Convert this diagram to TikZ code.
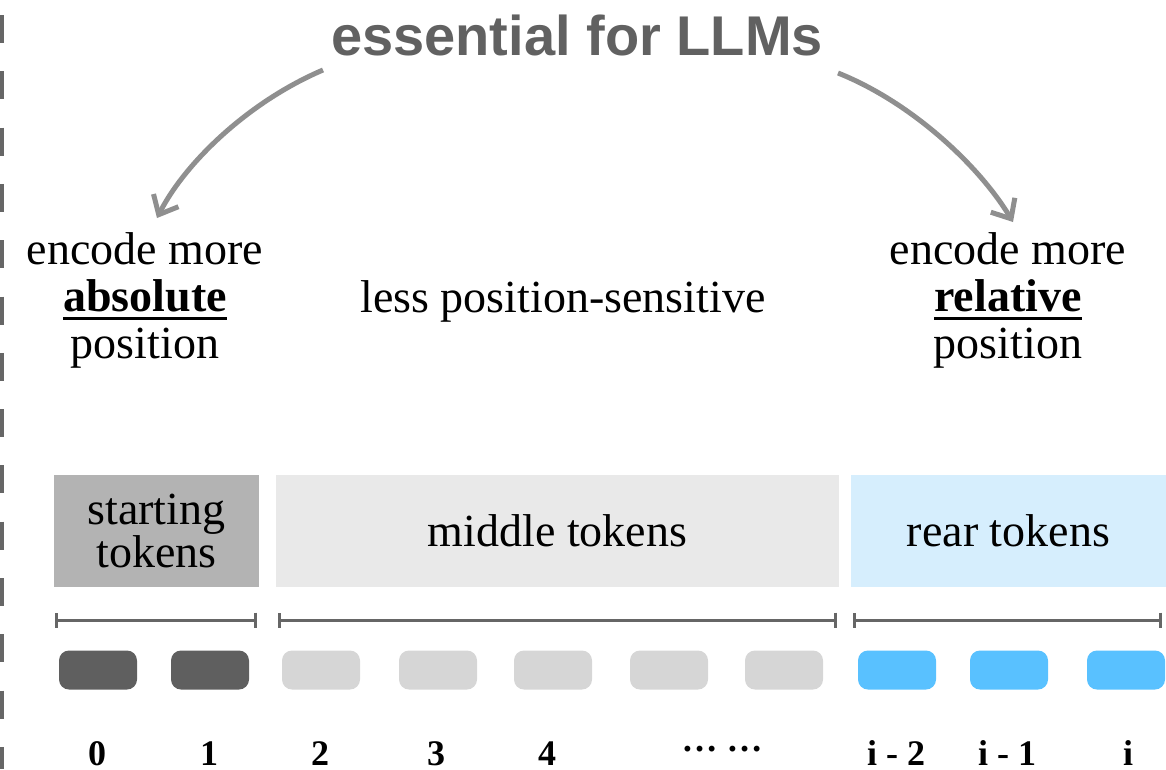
\documentclass[tikz,border=0pt]{standalone}
\usepackage{fontspec}
\setmainfont{Liberation Serif}
\newfontfamily\titlefont{Liberation Sans}
\usetikzlibrary{arrows.meta,calc}
\definecolor{titlegray}{HTML}{616161}
\definecolor{arrowgray}{HTML}{8F8F8F}
\definecolor{linegray}{HTML}{666666}
\definecolor{startfill}{HTML}{B3B3B3}
\definecolor{midfill}{HTML}{E9E9E9}
\definecolor{rearfill}{HTML}{D6EEFD}
\definecolor{tokdark}{HTML}{5F5F5F}
\definecolor{toklight}{HTML}{D6D6D6}
\definecolor{tokblue}{HTML}{59C1FF}
\newcommand\myul[1]{\leavevmode\setbox0\hbox{#1}\rlap{\rule[-8.5pt]{\wd0}{3pt}}\box0}
\begin{document}
\begin{tikzpicture}[x=1pt,y=-1pt,
  bigtxt/.style={font=\fontsize{46}{47}\selectfont, align=center, inner sep=0pt},
  region/.style={font=\fontsize{46}{40}\selectfont, align=center, inner sep=0pt, minimum height=112pt},
  tok/.style={rounded corners=10pt, minimum width=78pt, minimum height=39pt, inner sep=0pt},
  lab/.style={font=\fontsize{36}{36}\selectfont\bfseries, anchor=base, inner sep=0pt},
  arr/.style={draw=arrowgray, line width=5pt, -{Straight Barb[length=16pt,width=28pt]}},
  brk/.style={draw=linegray, line width=3pt, {Bar[width=15pt]}-{Bar[width=15pt]}}
]
\useasboundingbox (0,0) rectangle (1166,769);
% left dashed divider
\draw[linegray, line width=4pt, dash pattern=on 28pt off 28.3pt] (2,15) -- (2,769);
% title
\node[anchor=base, inner sep=0pt, text=titlegray, font=\titlefont\bfseries\fontsize{56}{60}\selectfont] (title) at (577,55) {essential for LLMs};
% descriptions
\node[bigtxt] (absl) at (145,300) {encode more\\\myul{\textbf{absolute}}\\position};
\node[bigtxt] (rel) at (1008,300) {encode more\\\myul{\textbf{relative}}\\position};
\node[bigtxt, anchor=base] (less) at (563,312) {less position-sensitive};
% arrows
\coordinate (ls) at (323,70);
\coordinate (le) at (157,218);
\coordinate (rs) at (838,73);
\coordinate (re) at (1013,222);
\draw[arr] (ls) .. controls (248,102) and (185,163) .. (le);
\draw[arr] (rs) .. controls (913,103) and (980,167) .. (re);
% regions
\node[region, fill=startfill, minimum width=205pt] (start) at (156.5,531) {starting\\tokens};
\node[region, fill=midfill, minimum width=563pt] (middle) at (557.5,531) {middle tokens};
\node[region, fill=rearfill, minimum width=315pt] (rear) at (1008.5,531) {rear tokens};
% brackets
\coordinate (b1a) at (55,620);
\coordinate (b1b) at (257,620);
\coordinate (b2a) at (278,620);
\coordinate (b2b) at (837,620);
\coordinate (b3a) at (853,620);
\coordinate (b3b) at (1162,620);
\draw[brk] (b1a) -- (b1b);
\draw[brk] (b2a) -- (b2b);
\draw[brk] (b3a) -- (b3b);
% tokens
\node[tok, fill=tokdark] (t0) at (98,670) {};
\node[tok, fill=tokdark] (t1) at (210,670) {};
\node[tok, fill=toklight] (t2) at (321,670) {};
\node[tok, fill=toklight] (t3) at (438,670) {};
\node[tok, fill=toklight] (t4) at (553,670) {};
\node[tok, fill=toklight] (t5) at (669,670) {};
\node[tok, fill=toklight] (t6) at (784,670) {};
\node[tok, fill=tokblue] (t7) at (897,670) {};
\node[tok, fill=tokblue] (t8) at (1009,670) {};
\node[tok, fill=tokblue] (t9) at (1126,670) {};
% labels
\node[lab] (l0) at (97,765) {0};
\node[lab] (l1) at (209,765) {1};
\node[lab] (l2) at (320,765) {2};
\node[lab] (l3) at (436,765) {3};
\node[lab] (l4) at (547,765) {4};
\node[lab] (ld) at (722,751) {… …};
\node[lab] (l7) at (896,765) {i - 2};
\node[lab] (l8) at (1007,765) {i - 1};
\node[lab] (l9) at (1128,765) {i};
\end{tikzpicture}
\end{document}
